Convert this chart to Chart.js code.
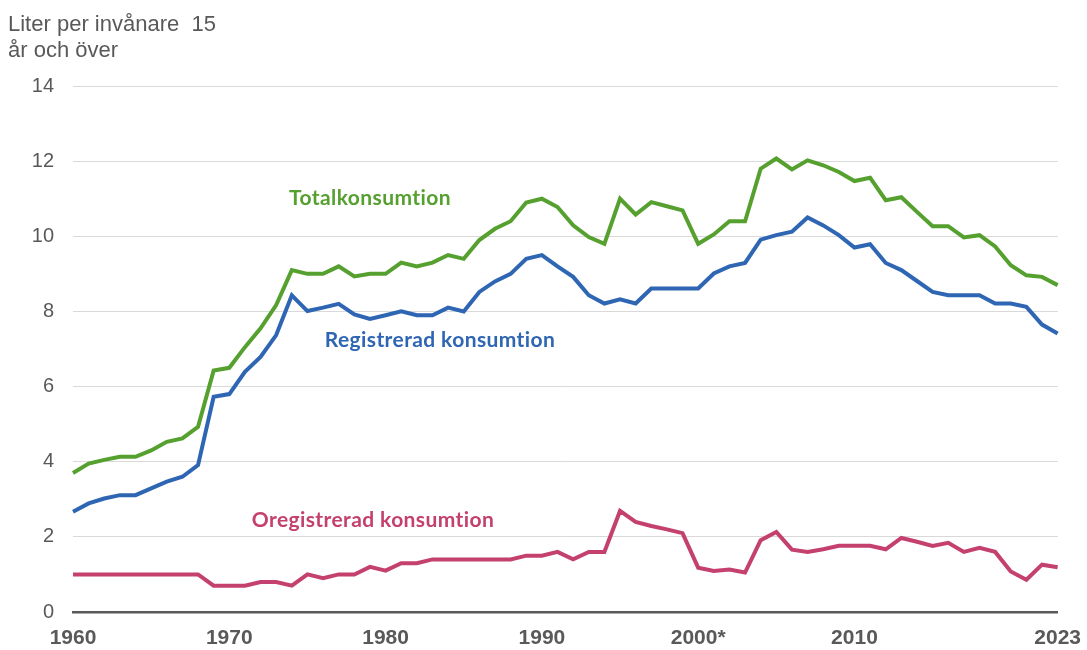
<!DOCTYPE html>
<html>
<head>
<meta charset="utf-8">
<script src="https://cdn.jsdelivr.net/npm/chart.js@4/dist/chart.umd.min.js"></script>
<style>
  html, body { margin: 0; padding: 0; background: #fff; }
  #wrap { width: 1087px; height: 650px; }
</style>
</head>
<body>
<div id="wrap"><canvas id="c"></canvas></div>
<script>
// years 1960-2023, 2000 is marked with an asterisk
const years = [
  '1960','1961','1962','1963','1964','1965','1966','1967','1968','1969',
  '1970','1971','1972','1973','1974','1975','1976','1977','1978','1979',
  '1980','1981','1982','1983','1984','1985','1986','1987','1988','1989',
  '1990','1991','1992','1993','1994','1995','1996','1997','1998','1999',
  '2000*','2001','2002','2003','2004','2005','2006','2007','2008','2009',
  '2010','2011','2012','2013','2014','2015','2016','2017','2018','2019',
  '2020','2021','2022','2023'
];
const shownYears = ['1960', '1970', '1980', '1990', '2000*', '2010', '2023'];

const total = [
  3.7, 3.95, 4.05, 4.13, 4.13, 4.3, 4.53, 4.62, 4.93, 6.43,
  6.5, 7.05, 7.55, 8.17, 9.1, 9.0, 9.0, 9.2, 8.93, 9.0,
  9.0, 9.3, 9.2, 9.3, 9.5, 9.4, 9.9, 10.2, 10.4, 10.9,
  11.0, 10.78, 10.29, 9.98, 9.8, 11.0, 10.58, 10.91, 10.8, 10.69,
  9.8, 10.05, 10.4, 10.4, 11.8, 12.07, 11.78, 12.02, 11.89, 11.71,
  11.47, 11.56, 10.96, 11.04, 10.65, 10.27, 10.27, 9.97, 10.03, 9.73,
  9.23, 8.96, 8.92, 8.7
];
const registered = [
  2.67, 2.89, 3.02, 3.11, 3.11, 3.29, 3.47, 3.6, 3.91, 5.73,
  5.8, 6.39, 6.79, 7.37, 8.43, 8.01, 8.1, 8.2, 7.92, 7.8,
  7.9, 8.0, 7.9, 7.9, 8.1, 8.0, 8.52, 8.8, 9.0, 9.4,
  9.5, 9.2, 8.92, 8.43, 8.21, 8.32, 8.21, 8.61, 8.61, 8.61,
  8.61, 9.01, 9.2, 9.29, 9.91, 10.03, 10.12, 10.5, 10.29, 10.03,
  9.7, 9.79, 9.29, 9.1, 8.81, 8.52, 8.43, 8.43, 8.43, 8.21,
  8.21, 8.12, 7.65, 7.41
];
const unregistered = [
  1.0, 1.0, 1.0, 1.0, 1.0, 1.0, 1.0, 1.0, 1.0, 0.7,
  0.7, 0.7, 0.8, 0.8, 0.7, 1.0, 0.9, 1.0, 1.0, 1.2,
  1.1, 1.3, 1.3, 1.4, 1.4, 1.4, 1.4, 1.4, 1.4, 1.5,
  1.5, 1.6, 1.4, 1.6, 1.6, 2.69, 2.4, 2.29, 2.2, 2.1,
  1.18, 1.09, 1.13, 1.05, 1.91, 2.13, 1.66, 1.6, 1.67, 1.76,
  1.76, 1.76, 1.67, 1.97, 1.87, 1.76, 1.84, 1.6, 1.71, 1.6,
  1.08, 0.86, 1.26, 1.19
];

const yTicks = [0, 2, 4, 6, 8, 10, 12, 14];
const axisTitle = ['Liter per invånare  15', 'år och över'];

const GREEN = '#55a02f';
const BLUE = '#2f66b3';
const PINK = '#c4416f';
const GREY = '#595959';

// series names written next to the lines
const seriesLabels = [
  { text: 'Totalkonsumtion', color: GREEN, x: 370, y: 198 },
  { text: 'Registrerad konsumtion', color: BLUE, x: 440, y: 340 },
  { text: 'Oregistrerad konsumtion', color: PINK, x: 373, y: 520 }
];

const textPlugin = {
  id: 'texts',
  afterDraw(chart) {
    const c = chart.ctx;
    c.save();
    c.fillStyle = GREY;
    c.font = '22px "Liberation Sans", Arial, sans-serif';
    c.textAlign = 'left';
    c.textBaseline = 'top';
    c.fillText(axisTitle[0], 8, 14);
    c.fillText(axisTitle[1], 8, 40);

    c.font = 'bold 21px Lato, "Liberation Sans", sans-serif';
    c.letterSpacing = '0.4px';
    c.textAlign = 'center';
    c.textBaseline = 'middle';
    seriesLabels.forEach(l => {
      c.fillStyle = l.color;
      c.fillText(l.text, l.x, l.y);
    });
    c.restore();
  }
};

const line = (data, color) => ({
  data: data,
  borderColor: color,
  backgroundColor: color,
  borderWidth: 4,
  pointRadius: 0,
  tension: 0,
  fill: false
});

new Chart(document.getElementById('c'), {
  type: 'line',
  data: {
    labels: years,
    datasets: [
      line(total, GREEN),
      line(registered, BLUE),
      line(unregistered, PINK)
    ]
  },
  options: {
    responsive: true,
    maintainAspectRatio: false,
    animation: false,
    layout: { padding: { top: 86, right: 29, left: 0, bottom: 0 } },
    plugins: {
      legend: { display: false },
      tooltip: { enabled: false }
    },
    scales: {
      x: {
        offset: false,
        grid: { display: false },
        border: { display: true, color: GREY, width: 2.5 },
        ticks: {
          autoSkip: false,
          maxRotation: 0,
          color: GREY,
          padding: 6,
          font: { family: '"Liberation Sans", Arial, sans-serif', size: 21, weight: 'bold' },
          callback: function(val) {
            const lab = this.getLabelForValue(val);
            return shownYears.includes(lab) ? lab : '';
          }
        },
        afterFit(scale) { scale.height = 38; }
      },
      y: {
        min: 0,
        max: 14,
        afterBuildTicks(scale) { scale.ticks = yTicks.map(v => ({ value: v })); },
        grid: { color: '#d9d9d9', lineWidth: 1, drawTicks: false },
        border: { display: false },
        ticks: {
          color: GREY,
          padding: 19,
          font: { family: '"Liberation Sans", Arial, sans-serif', size: 20 }
        },
        afterFit(scale) { scale.width = 73; }
      }
    }
  },
  plugins: [textPlugin]
});
</script>
</body>
</html>
